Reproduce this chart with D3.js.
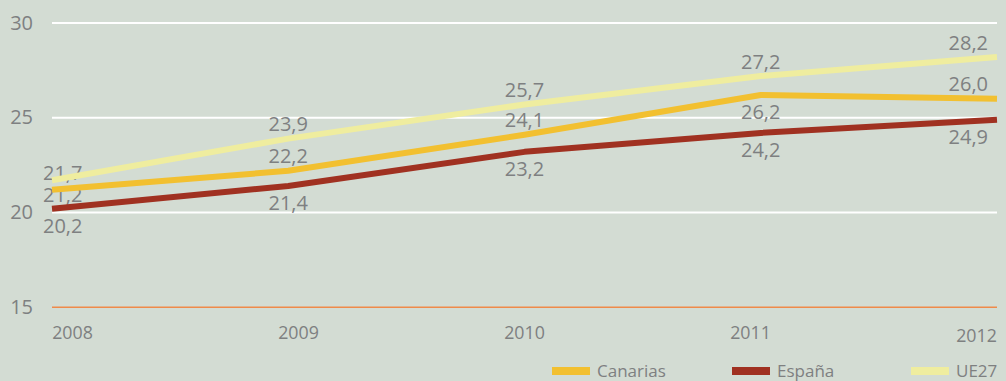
<!DOCTYPE html>
<html>
<head>
<meta charset="utf-8">
<script src="https://cdn.jsdelivr.net/npm/d3@7"></script>
<style>
  html, body { margin: 0; padding: 0; background: #d3dcd3; }
  svg { display: block; font-family: "Open Sans", sans-serif; }
</style>
</head>
<body>
<svg id="chart" width="1006" height="381"></svg>
<script>
// Years on the horizontal axis
const years = ["2008", "2009", "2010", "2011", "2012"];
// Values per series
const canarias = [21.2, 22.2, 24.1, 26.2, 26.0];
const espana   = [20.2, 21.4, 23.2, 24.2, 24.9];
const ue27     = [21.7, 23.9, 25.7, 27.2, 28.2];
// Axis ticks
const yTicks = [15, 20, 25, 30];
const seriesNames = ["Canarias", "España", "UE27"];

const series = [
  { name: seriesNames[0], values: canarias, color: "#f2c030" },
  { name: seriesNames[1], values: espana,   color: "#a03121" },
  { name: seriesNames[2], values: ue27,     color: "#efed9f" }
];

// Where each value label sits relative to its line, per year
const labelSide = {
  "Canarias": ["mid", "above", "above", "below", "above"],
  "España":   ["below", "below", "below", "below", "below"],
  "UE27":     ["on", "above", "above", "above", "above"]
};

const svg = d3.select("#chart");
const textColor = "#7e8081";

const x = d3.scalePoint().domain(years).range([52, 997]);
const xLabel = d3.scalePoint().domain(years).range([72, 976]);
const y = d3.scaleLinear().domain([20, 30]).range([212.5, 23]);

// Gridlines
svg.append("g").selectAll("line")
  .data(yTicks)
  .join("line")
  .attr("x1", 52).attr("x2", 997)
  .attr("y1", d => y(d)).attr("y2", d => y(d))
  .attr("stroke", d => d === 15 ? "#ef8a4a" : "#ffffff")
  .attr("stroke-width", d => d === 15 ? 1.3 : 2);

// Y axis labels
const yAxis = d3.axisLeft(y).tickValues(yTicks).tickSize(0).tickPadding(0).tickFormat(d3.format("d"));
const gy = svg.append("g").attr("transform", "translate(33,0)").call(yAxis);
gy.select(".domain").remove();
gy.selectAll("text")
  .attr("fill", textColor)
  .attr("font-size", 20)
  .attr("font-family", "Open Sans, sans-serif")
  .attr("dy", "0.3em");

// X axis labels
const xAxis = d3.axisBottom(xLabel).tickSize(0).tickPadding(0);
const gx = svg.append("g").attr("transform", "translate(0,339)").call(xAxis);
gx.select(".domain").remove();
gx.selectAll("text")
  .attr("fill", textColor)
  .attr("font-size", 17.8)
  .attr("font-family", "Open Sans, sans-serif")
  .attr("dy", (d, i) => i === years.length - 1 ? "3" : "0");

// Value labels (drawn beneath the lines)
const fmt = v => d3.format(".1f")(v).replace(".", ",");
const dyFor = { above: -7.5, below: 24, mid: 12, on: 0 };
series.forEach(s => {
  svg.append("g").selectAll("text")
    .data(s.values)
    .join("text")
    .attr("x", (d, i) => i === 0 ? x(years[i]) - 9 : i === years.length - 1 ? x(years[i]) - 9 : x(years[i]))
    .attr("y", (d, i) => y(d) + dyFor[labelSide[s.name][i]])
    .attr("text-anchor", (d, i) => i === 0 ? "start" : i === years.length - 1 ? "end" : "middle")
    .attr("fill", textColor)
    .attr("font-size", 20)
    .text(d => fmt(d));
});

// Lines
const line = d3.line().x((d, i) => x(years[i])).y(d => y(d));
[series[2], series[0], series[1]].forEach(s => {
  svg.append("path")
    .datum(s.values)
    .attr("d", line)
    .attr("fill", "none")
    .attr("stroke", s.color)
    .attr("stroke-width", 6)
    .attr("stroke-linejoin", "round");
});

// Legend
const legendX = [552, 732, 911];
const legend = svg.append("g").selectAll("g")
  .data(series)
  .join("g")
  .attr("transform", (d, i) => `translate(${legendX[i]},367)`);
legend.append("rect")
  .attr("width", 38).attr("height", 8)
  .attr("fill", d => d.color);
legend.append("text")
  .attr("x", 45).attr("y", 10)
  .attr("fill", textColor)
  .attr("font-size", 17)
  .text(d => d.name);
</script>
</body>
</html>
